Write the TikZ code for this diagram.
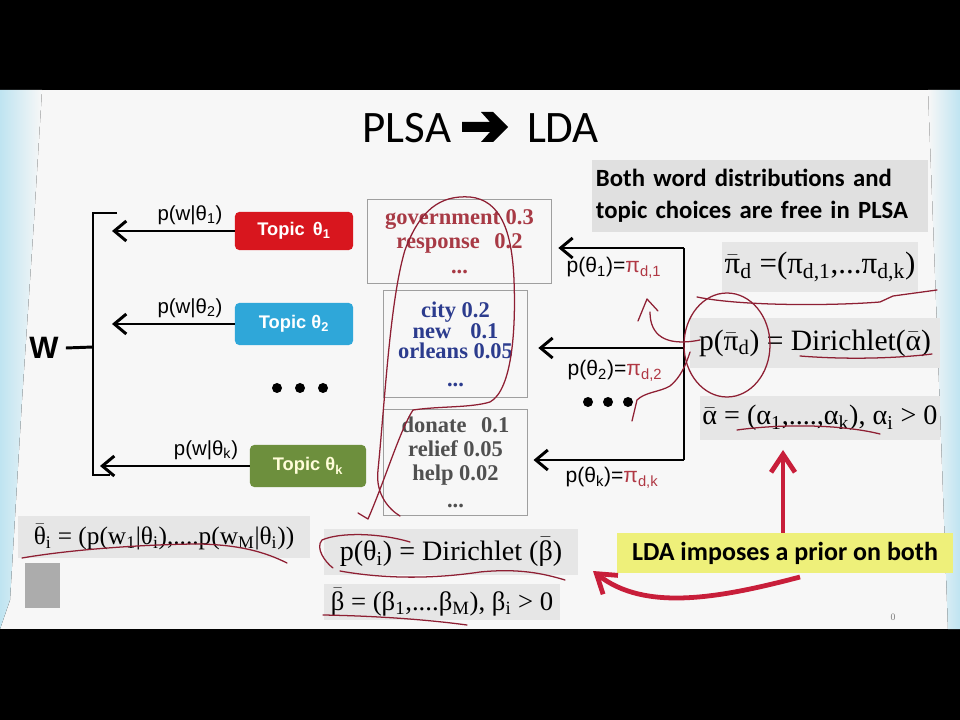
\documentclass[tikz,border=0pt]{standalone}
\usepackage{fontspec}
\setmainfont{Liberation Serif}
\newfontfamily\carl{Carlito}
\newfontfamily\ars{Liberation Sans}
\usetikzlibrary{arrows.meta}
\definecolor{slidebg}{HTML}{F7F7F7}
\definecolor{blueedge}{HTML}{BFE4F1}
\definecolor{grayfill}{HTML}{E6E6E6}
\definecolor{bothgray}{HTML}{E0E0E0}
\definecolor{topicred}{HTML}{D8161E}
\definecolor{topicblue}{HTML}{2FA7D9}
\definecolor{topicgreen}{HTML}{6D8F3D}
\definecolor{wordred}{HTML}{A83A45}
\definecolor{wordblue}{HTML}{2C3C8E}
\definecolor{wordgray}{HTML}{505050}
\definecolor{ink}{HTML}{8E1F33}
\definecolor{arrred}{HTML}{C81E3A}
\definecolor{yellowbox}{HTML}{EEF07A}
\definecolor{pired}{HTML}{B03844}
\newcommand\ovl[1]{\ensuremath{\bar{\hbox{#1}}}}
\newcommand\sub[1]{\textsubscript{#1}}
\tikzset{
  topic/.style={rounded corners=3pt, inner sep=0pt, minimum width=2.95cm,
    text=white, font=\ars\bfseries\fontsize{13}{15}\selectfont},
  lbl/.style={inner sep=0pt, font=\ars\fontsize{14.5}{16}\selectfont},
  lbltwo/.style={inner sep=0pt, font=\ars\fontsize{15}{17}\selectfont},
  wordbox/.style={draw=gray!75, line width=0.7pt, inner sep=0pt, align=center,
    font=\bfseries\fontsize{16}{17}\selectfont},
  frm/.style={fill=grayfill, inner sep=0pt},
  arr/.style={line width=2.1pt, -{Straight Barb[length=0.3cm,width=0.5cm]}},
  brk/.style={line width=2.1pt, line join=miter},
  redarr/.style={draw=arrred, line width=3.4pt, -{Straight Barb[length=0.45cm,width=0.6cm]}},
  ink/.style={draw=ink, line width=0.9pt, line cap=round, line join=round},
  dotc/.style={fill=black}
}
\begin{document}
\begin{tikzpicture}[x=0.025cm,y=-0.025cm]
\useasboundingbox (0,0) rectangle (960,720);
% frame and slide
\fill[black] (0,0) rectangle (960,720);
\fill[slidebg] (0,90) rectangle (960,629);
\fill[left color=blueedge, right color=slidebg] (0,90) -- (42,90) -- (34,220) -- (22,400) -- (10,600) -- (0,629) -- cycle;
\fill[left color=slidebg, right color=blueedge] (928,90) -- (960,90) -- (960,629) -- (948,629) -- (936,300) -- cycle;

% title
\node[inner sep=0pt, font=\carl\fontsize{32}{36}\selectfont] (tp) at (407,128) {PLSA};
\node[inner sep=0pt, font=\carl\fontsize{32}{36}\selectfont] (tl) at (563,128) {LDA};
\fill[black] (462,122) -- (490,122) -- (481,112) -- (493,112) -- (508,127) -- (493,142) -- (481,142) -- (490,132) -- (462,132) -- cycle;

% W and bracket
\node[inner sep=0pt, font=\ars\bfseries\fontsize{22}{24}\selectfont] (W) at (44,348) {W};
\coordinate (bt) at (93,213);
\coordinate (bm) at (93,347);
\coordinate (bb) at (93,475);
\draw[brk] (W.east) ++(7,0) -- (bm);
\draw[brk] (117,213) -- (bt) -- (bb) -- (110,475);

% topics
\node[topic, fill=topicred, minimum height=0.95cm] (t1) at (294,231) {Topic\hspace{0.45em}θ\sub{1}};
\node[topic, fill=topicblue, minimum height=1.05cm] (t2) at (294,324) {Topic θ\sub{2}};
\node[topic, fill=topicgreen, text=white!85!yellow, minimum width=2.9cm, minimum height=1.05cm] (tk) at (308,466) {Topic θ\sub{k}};
\coordinate (a1) at (112,231);
\coordinate (ak) at (100,466);
\draw[arr] (t1.west) -- (t1.west -| a1);
\draw[arr] (t2.west) -- (t2.west -| a1);
\draw[arr] (tk.west) -- (tk.west -| ak);
\node[lbl] (l1) at (190,215) {p(w|θ\sub{1})};
\node[lbl] (l2) at (190,308) {p(w|θ\sub{2})};
\node[lbl] (lk) at (206,450) {p(w|θ\sub{k})};
\fill[dotc] (277,388) circle (5);
\fill[dotc] (300,388) circle (5);
\fill[dotc] (323,388) circle (5);

% word boxes
\node[wordbox, text=wordred, minimum width=4.575cm, minimum height=2.075cm] (b1) at (459.5,241.5)
  {government 0.3\\response\hspace{0.4em} 0.2\\[1pt]...};
\node[wordbox, text=wordblue, minimum width=3.575cm, minimum height=2.65cm,
  font=\bfseries\fontsize{16}{14}\selectfont] (b2) at (455.5,344)
  {city 0.2\\new\hspace{0.6em} 0.1\\orleans 0.05\\[6pt]...};
\node[wordbox, text=wordgray, minimum width=3.575cm, minimum height=2.625cm] (b3) at (455.5,462.5)
  {donate\hspace{0.4em} 0.1\\relief 0.05\\help 0.02\\[2pt]...};

% right side connectors
\coordinate (v1) at (684,248);
\coordinate (v2) at (684,348);
\coordinate (v3) at (684,460);
\draw[brk] (v1) -- (v3);
\draw[arr, shorten >=0.17cm] (v1) -- (b1.east |- v1);
\draw[arr, shorten >=0.27cm] (v2) -- (b2.east |- v2);
\draw[arr, shorten >=0.15cm] (v3) -- (b3.east |- v3);
\node[lbltwo] (q1) at (614,268) {p(θ\sub{1})=\textcolor{pired}{π\sub{d,1}}};
\node[lbltwo] (q2) at (615,371) {p(θ\sub{2})=\textcolor{pired}{π\sub{d,2}}};
\node[lbltwo] (qk) at (612,478) {p(θ\sub{k})=\textcolor{pired}{π\sub{d,k}}};
\fill[dotc] (588,402) circle (5);
\fill[dotc] (608,402) circle (5);
\fill[dotc] (628,402) circle (5);

% right text
\node[fill=bothgray, inner xsep=0.1cm, inner ysep=0pt, text width=8.2cm, minimum height=1.8cm, align=left,
  font=\carl\bfseries\fontsize{17.6}{22.5}\selectfont] (both) at (760,196)
  {Both word distributions and\\topic choices are free in PLSA};
\node[frm, minimum width=4.9cm, minimum height=1.225cm, font=\fontsize{22}{24}\selectfont] (pid) at (820,267)
  {\ovl{π}\sub{d} =(π\sub{d,1},...π\sub{d,k})};
\node[frm, minimum width=6.25cm, minimum height=1.25cm, font=\fontsize{21}{23}\selectfont] (pdir) at (815,343)
  {p(\ovl{π}\sub{d}) = Dirichlet(\ovl{α})};
\node[frm, minimum width=6cm, minimum height=1.075cm, font=\fontsize{20}{23}\selectfont] (alph) at (820,418)
  {\ovl{α} = (α\sub{1},....,α\sub{k}), α\sub{i} > 0};
\node[fill=yellowbox, inner sep=0pt, minimum width=8.4cm, minimum height=1cm,
  font=\carl\bfseries\fontsize{18.5}{21}\selectfont] (lda) at (785,553) {LDA imposes a prior on both};

% bottom left formulas
\node[frm, minimum width=7.3cm, minimum height=1.025cm, font=\fontsize{18}{20}\selectfont] (thb) at (164,537)
  {\ovl{θ}\sub{i} = (p(w\sub{1}|θ\sub{i}),....p(w\sub{M}|θ\sub{i}))};
\fill[gray!65] (25,563) rectangle (60,608);
\node[frm, minimum width=6.325cm, minimum height=1.125cm, font=\fontsize{20}{22}\selectfont] (pthe) at (451,552)
  {p(θ\sub{i}) = Dirichlet (\ovl{β})};
\node[frm, minimum width=5.875cm, minimum height=0.875cm, font=\fontsize{19}{21}\selectfont] (beta) at (442,602)
  {\ovl{β} = (β\sub{1},....β\sub{M}), β\sub{i} > 0};
\node[inner sep=0pt, text=gray, font=\fontsize{7}{8}\selectfont] (pg) at (893,617) {0};

% red arrows
\draw[redarr] (lda.north -| 783,0) -- (783,450);
\draw[redarr] (800,577) .. controls (720,598) and (645,612) .. (593,571);

% handwritten annotations
\draw[ink] (358,513) -- (368,519) .. controls (385,480) and (400,430) .. (413,410)
  .. controls (440,406) and (470,408) .. (490,402) .. controls (512,390) and (516,330) .. (514,280)
  .. controls (512,230) and (500,200) .. (470,197) .. controls (440,195) and (420,210) .. (405,250)
  .. controls (390,300) and (385,400) .. (378,470) .. controls (375,495) and (390,510) .. (400,516);
\draw[ink] (638,321) -- (647,299) -- (658,311);
\draw[ink] (650,312) .. controls (650,335) and (665,347) .. (700,340);
\draw[ink] (632,421) -- (637,400) .. controls (645,392) and (660,392) .. (670,386) .. controls (680,378) and (686,365) .. (690,352);
\draw[ink] (727,345) ellipse [x radius=43, y radius=52];
\draw[ink] (697,297) .. controls (740,306) and (830,306) .. (880,302) -- (893,296) -- (937,290);
\draw[ink] (800,356) .. controls (850,360) and (900,358) .. (932,354);
\draw[ink] (737,430) .. controls (780,424) and (840,424) .. (880,434);
\draw[ink] (22,558) .. controls (80,548) and (160,544) .. (200,544) .. controls (240,545) and (265,552) .. (287,563);
\draw[ink] (410,542) .. controls (380,533) and (340,532) .. (322,540) .. controls (315,548) and (325,562) .. (333,568);
\draw[ink] (340,571) .. controls (390,580) and (440,578) .. (480,572) .. controls (520,568) and (545,574) .. (565,580);
\draw[ink] (323,615) .. controls (380,616) and (430,620) .. (467,625);
\end{tikzpicture}
\end{document}
